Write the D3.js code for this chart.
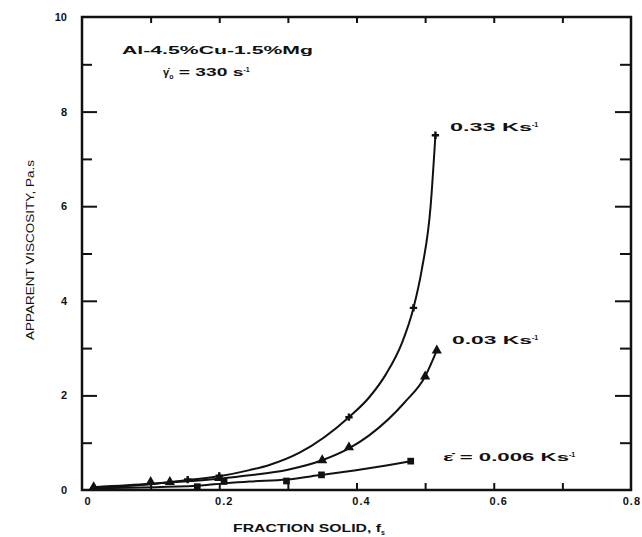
<!doctype html>
<html>
<head>
    <script src="https://cdnjs.cloudflare.com/ajax/libs/d3/7.8.5/d3.min.js"></script>
    <style>
        body { margin: 0; background: #fff; }
        text { font-family: "Liberation Sans", Arial, sans-serif; font-weight: bold; fill: #111; }
    </style>
</head>
<body>
    <div id="viz"></div>
    <script>
        // values (fraction solid, viscosity Pa.s)
        var xTicks = [0, 0.2, 0.4, 0.6, 0.8];
        var yTicks = [0, 2, 4, 6, 8, 10];

        var line033 = [[0.02, 0.05], [0.10, 0.12], [0.154, 0.21], [0.20, 0.29], [0.244, 0.42], [0.273, 0.53], [0.317, 0.79],
            [0.389, 1.54], [0.418, 1.95], [0.443, 2.45], [0.466, 3.10], [0.483, 3.85], [0.495, 4.65], [0.508, 6.00], [0.515, 7.50]];
        var pts033 = [[0.154, 0.22], [0.20, 0.30], [0.389, 1.54], [0.483, 3.85], [0.515, 7.50]];

        var line003 = [[0.017, 0.06], [0.10, 0.13], [0.128, 0.16], [0.20, 0.24], [0.244, 0.31], [0.30, 0.43], [0.35, 0.63],
            [0.389, 0.88], [0.418, 1.15], [0.47, 1.85], [0.50, 2.40], [0.517, 2.95]];
        var pts003 = [[0.017, 0.06], [0.10, 0.17], [0.128, 0.17], [0.20, 0.25], [0.35, 0.63], [0.389, 0.90], [0.50, 2.40], [0.517, 2.95]];

        var line0006 = [[0.02, 0.04], [0.168, 0.09], [0.207, 0.14], [0.244, 0.18], [0.298, 0.22], [0.349, 0.32], [0.418, 0.46], [0.479, 0.61]];
        var pts0006 = [[0.168, 0.07], [0.207, 0.18], [0.298, 0.19], [0.349, 0.32], [0.479, 0.61]];

        var width = 642, height = 537;
        var svg = d3.select("#viz").append("svg")
            .attr("width", width)
            .attr("height", height);

        var x = d3.scaleLinear().domain([0, 0.8]).range([82, 631]);
        var y = d3.scaleLinear().domain([0, 10]).range([490, 17]);

        // frame
        svg.append("rect")
            .attr("x", x(0)).attr("y", y(10))
            .attr("width", x(0.8) - x(0)).attr("height", y(0) - y(10))
            .attr("fill", "none").attr("stroke", "#111").attr("stroke-width", 2.5);

        // left / right ticks
        var yMinor = d3.range(1, 10, 2);
        svg.append("g").attr("transform", "translate(" + x(0) + ",0)")
            .call(d3.axisRight(y).tickValues(yTicks.slice(1, 5)).tickSize(15).tickFormat(""))
            .call(g => g.select(".domain").remove());
        svg.append("g").attr("transform", "translate(" + x(0) + ",0)")
            .call(d3.axisRight(y).tickValues(yMinor).tickSize(10).tickFormat(""))
            .call(g => g.select(".domain").remove());
        svg.append("g").attr("transform", "translate(" + x(0.8) + ",0)")
            .call(d3.axisLeft(y).tickValues(yTicks.slice(1, 5)).tickSize(16).tickFormat(""))
            .call(g => g.select(".domain").remove());
        svg.append("g").attr("transform", "translate(" + x(0.8) + ",0)")
            .call(d3.axisLeft(y).tickValues(yMinor).tickSize(11).tickFormat(""))
            .call(g => g.select(".domain").remove());
        svg.selectAll(".tick line").attr("stroke", "#111").attr("stroke-width", 2);

        // y tick labels
        svg.append("g").selectAll("text")
            .data(yTicks)
            .enter().append("text")
            .attr("x", 67).attr("y", d => y(d) + 4)
            .attr("text-anchor", "end")
            .style("font-size", "11px")
            .text(d => d);

        // top / bottom ticks
        var xMinor = d3.range(1, 8).map(d => d / 10);
        svg.append("g").attr("transform", "translate(0," + y(0) + ")")
            .call(d3.axisTop(x).tickValues(xMinor).tickSize(7).tickFormat(""))
            .call(g => g.select(".domain").remove())
            .selectAll("line").attr("stroke", "#111").attr("stroke-width", 2);
        svg.append("g").attr("transform", "translate(0," + y(10) + ")")
            .call(d3.axisBottom(x).tickValues(xMinor).tickSize(6).tickFormat(""))
            .call(g => g.select(".domain").remove())
            .selectAll("line").attr("stroke", "#111").attr("stroke-width", 2);

        svg.append("g").selectAll("text")
            .data(xTicks)
            .enter().append("text")
            .attr("x", d => d == 0.8 ? 641 : x(d) + (d == 0 ? 6 : 5)).attr("y", 505)
            .attr("text-anchor", d => d == 0.8 ? "end" : "middle")
            .attr("letter-spacing", "1px")
            .style("font-size", "11px")
            .text(d => d == 0 ? "0" : d.toFixed(1));

        // axis titles
        var xt = svg.append("text")
            .attr("x", 233).attr("y", 532)
            .style("font-size", "11px");
        xt.append("tspan").attr("textLength", 148).attr("lengthAdjust", "spacingAndGlyphs").text("FRACTION SOLID, f");
        xt.append("tspan").attr("dy", 3).style("font-size", "7px").text("s");

        svg.append("text")
            .attr("transform", "translate(34,250) rotate(-90)")
            .attr("text-anchor", "middle")
            .attr("textLength", 180).attr("lengthAdjust", "spacingAndGlyphs")
            .style("font-size", "10px").style("font-weight", "normal")
            .text("APPARENT VISCOSITY, Pa.s");

        // curves
        var line = d3.line()
            .x(d => x(d[0])).y(d => y(d[1]))
            .curve(d3.curveMonotoneX);

        [line033, line003, line0006].forEach(function (s) {
            svg.append("path")
                .datum(s)
                .attr("d", line)
                .attr("fill", "none")
                .attr("stroke", "#111")
                .attr("stroke-width", 2);
        });

        function marks(data, type, size) {
            svg.append("g").selectAll("path")
                .data(data)
                .enter().append("path")
                .attr("transform", d => "translate(" + x(d[0]) + "," + y(d[1]) + ")")
                .attr("d", d3.symbol().type(type).size(size))
                .attr("fill", "#111");
        }
        marks(pts033, d3.symbolCross, 30);
        marks(pts003, d3.symbolTriangle, 45);
        marks(pts0006, d3.symbolSquare, 45);

        // annotations
        svg.append("text")
            .attr("x", 122).attr("y", 54)
            .attr("textLength", 191).attr("lengthAdjust", "spacingAndGlyphs")
            .style("font-size", "11px")
            .text("Al-4.5%Cu-1.5%Mg");

        var g0 = svg.append("text")
            .attr("x", 163).attr("y", 76)
            .style("font-size", "11px");
        g0.append("tspan").text("\u03b3\u0307");
        g0.append("tspan").attr("dy", 3).style("font-size", "7px").text("o");
        g0.append("tspan").attr("dy", -3).attr("textLength", 70).attr("lengthAdjust", "spacingAndGlyphs").text("  =  330  s");
        g0.append("tspan").attr("dy", -4).style("font-size", "7px").text("-1");

        function rateLabel(xp, yp, txt, w) {
            var t = svg.append("text")
                .attr("x", xp).attr("y", yp)
                .style("font-size", "11px");
            t.append("tspan").attr("textLength", w).attr("lengthAdjust", "spacingAndGlyphs").text(txt);
            t.append("tspan").attr("dy", -4).style("font-size", "7px").text("-1");
        }
        rateLabel(450, 131, "0.33   Ks", 82);
        rateLabel(452, 344, "0.03   Ks", 80);
        rateLabel(443, 461, "\u03b5\u0307  =  0.006   Ks", 126);
    </script>
</body>
</html>
